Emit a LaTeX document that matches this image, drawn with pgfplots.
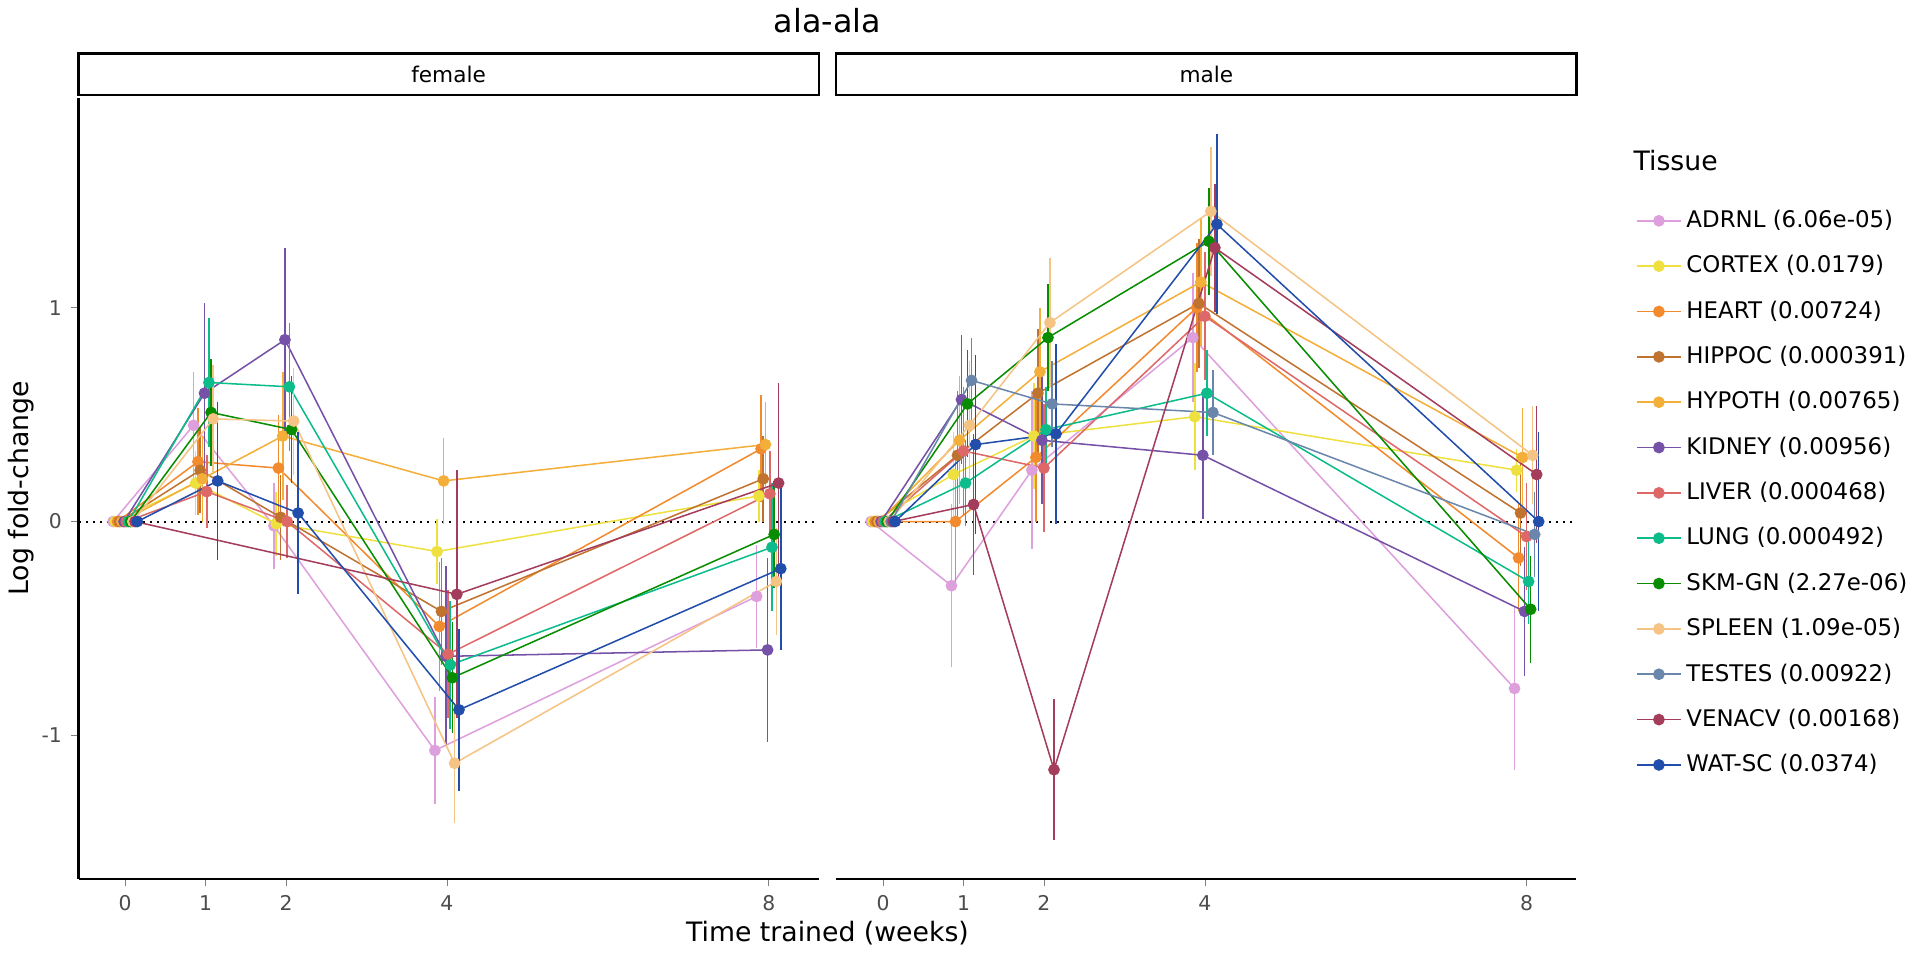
\documentclass[border=0pt]{standalone}
\usepackage{pgfplots}
\pgfplotsset{compat=1.18}
\usetikzlibrary{calc}
\usepackage{fontspec}
\setmainfont{DejaVu Sans}
\definecolor{cADRNL}{HTML}{DDA0DD}
\definecolor{cCORTEX}{HTML}{EEE13F}
\definecolor{cHEART}{HTML}{F28A2E}
\definecolor{cHIPPOC}{HTML}{C0732F}
\definecolor{cHYPOTH}{HTML}{F4AE3A}
\definecolor{cKIDNEY}{HTML}{7551A7}
\definecolor{cLIVER}{HTML}{DE6868}
\definecolor{cLUNG}{HTML}{0CBC8B}
\definecolor{cSKM}{HTML}{088C00}
\definecolor{cSPLEEN}{HTML}{F5C383}
\definecolor{cTESTES}{HTML}{6A87AB}
\definecolor{cVENACV}{HTML}{A33D5B}
\definecolor{cWAT}{HTML}{214DAB}
% #1 colour, #2 dodge offset, #3 data (t v e), #4 extra options
\newcommand{\tis}[4]{\addplot[color=#1, line width=0.6pt, mark=*, mark size=2pt, mark options={solid}, #4,
  error bars/.cd, y dir=both, y explicit, error mark=none, error bar style={line width=0.6pt,color=#1}]
  table[row sep=\\, x expr=\thisrow{t}+#2, y=v, y error=e] {#3};}
\pgfplotsset{panel/.style={width=291pt, height=307pt, scale only axis, enlargelimits=false,
  xmin=-0.58, xmax=8.62, ymin=-1.67, ymax=1.98, xtick={0,1,2,4,8},
  clip=false, tick label style={font=\fontsize{8}{9}\selectfont, color=black!70},
  /pgf/number format/assume math mode=true, tick align=outside, major tick length=3pt,
  axis line style={line width=0.8pt}}}
\begin{document}
\begin{tikzpicture}
\begin{axis}[panel, name=fem, axis x line*=bottom, axis y line*=left, ytick={-1,0,1},
  ylabel={Log fold-change}, ylabel style={font=\fontsize{10.5}{12}\selectfont, yshift=-4pt}]
\draw[dotted, line width=0.8pt] (axis cs:-0.58,0) -- (axis cs:8.62,0);
\tis{cADRNL}{-0.15}{t v e\\0 0 0\\1 0.45 0.25\\2 -0.02 0.2\\4 -1.07 0.25\\8 -0.35 0.24\\}{forget plot}
\tis{cCORTEX}{-0.123}{t v e\\0 0 0\\1 0.18 0.15\\2 -0.01 0.15\\4 -0.14 0.15\\8 0.12 0.12\\}{forget plot}
\tis{cHEART}{-0.095}{t v e\\0 0 0\\1 0.28 0.25\\2 0.25 0.25\\4 -0.49 0.3\\8 0.34 0.25\\}{forget plot}
\tis{cHIPPOC}{-0.068}{t v e\\0 0 0\\1 0.24 0.2\\2 0.02 0.2\\4 -0.42 0.25\\8 0.2 0.2\\}{forget plot}
\tis{cHYPOTH}{-0.041}{t v e\\0 0 0\\1 0.2 0.2\\2 0.40 0.3\\4 0.19 0.2\\8 0.36 0.2\\}{forget plot}
\tis{cKIDNEY}{-0.014}{t v e\\0 0 0\\1 0.6 0.42\\2 0.85 0.43\\4 -0.63 0.42\\8 -0.6 0.43\\}{forget plot}
\tis{cLIVER}{0.014}{t v e\\0 0 0\\1 0.14 0.17\\2 0.0 0.17\\4 -0.62 0.3\\8 0.13 0.2\\}{forget plot}
\tis{cLUNG}{0.041}{t v e\\0 0 0\\1 0.65 0.3\\2 0.63 0.3\\4 -0.67 0.3\\8 -0.12 0.3\\}{forget plot}
\tis{cSKM}{0.068}{t v e\\0 0 0\\1 0.51 0.25\\2 0.43 0.25\\4 -0.73 0.26\\8 -0.06 0.25\\}{forget plot}
\tis{cSPLEEN}{0.095}{t v e\\0 0 0\\1 0.48 0.25\\2 0.47 0.25\\4 -1.13 0.28\\8 -0.28 0.25\\}{forget plot}
\tis{cVENACV}{0.123}{t v e\\0 0 0\\4 -0.34 0.58\\8 0.18 0.47\\}{forget plot}
\tis{cWAT}{0.15}{t v e\\0 0 0\\1 0.19 0.37\\2 0.04 0.38\\4 -0.88 0.38\\8 -0.22 0.38\\}{forget plot}
\draw[line width=0.8pt] (rel axis cs:0,1.004) rectangle node{\fontsize{8.5}{10}\selectfont female} (rel axis cs:1,1.057);
\end{axis}
\begin{axis}[panel, name=mal, at={(fem.south east)}, anchor=south west, xshift=7pt,
  axis x line*=bottom, axis y line=none, ytick=\empty,
  legend style={draw=none, at={(1.07,0.87)}, anchor=north west, font=\fontsize{9}{10}\selectfont, row sep=5.5pt},
  legend cell align=left]
\draw[dotted, line width=0.8pt] (axis cs:-0.58,0) -- (axis cs:8.62,0);
\tis{cADRNL}{-0.15}{t v e\\0 0 0\\1 -0.3 0.38\\2 0.24 0.37\\4 0.86 0.3\\8 -0.78 0.38\\}{}
\addlegendentry{ADRNL (6.06e-05)}
\tis{cCORTEX}{-0.125}{t v e\\0 0 0\\1 0.22 0.2\\2 0.4 0.25\\4 0.49 0.25\\8 0.24 0.1\\}{}
\addlegendentry{CORTEX (0.0179)}
\tis{cHEART}{-0.1}{t v e\\0 0 0\\1 0.0 0.3\\2 0.3 0.3\\4 1.0 0.3\\8 -0.17 0.25\\}{}
\addlegendentry{HEART (0.00724)}
\tis{cHIPPOC}{-0.075}{t v e\\0 0 0\\1 0.31 0.3\\2 0.6 0.3\\4 1.02 0.3\\8 0.04 0.25\\}{}
\addlegendentry{HIPPOC (0.000391)}
\tis{cHYPOTH}{-0.05}{t v e\\0 0 0\\1 0.38 0.3\\2 0.7 0.3\\4 1.12 0.3\\8 0.3 0.23\\}{}
\addlegendentry{HYPOTH (0.00765)}
\tis{cKIDNEY}{-0.025}{t v e\\0 0 0\\1 0.57 0.3\\2 0.38 0.3\\4 0.31 0.3\\8 -0.42 0.3\\}{}
\addlegendentry{KIDNEY (0.00956)}
\tis{cLIVER}{0}{t v e\\0 0 0\\1 0.33 0.3\\2 0.25 0.3\\4 0.96 0.3\\8 -0.07 0.25\\}{}
\addlegendentry{LIVER (0.000468)}
\tis{cLUNG}{0.025}{t v e\\0 0 0\\1 0.18 0.2\\2 0.43 0.2\\4 0.6 0.2\\8 -0.28 0.2\\}{}
\addlegendentry{LUNG (0.000492)}
\tis{cSKM}{0.05}{t v e\\0 0 0\\1 0.55 0.25\\2 0.86 0.25\\4 1.31 0.25\\8 -0.41 0.25\\}{}
\addlegendentry{SKM-GN (2.27e-06)}
\tis{cSPLEEN}{0.075}{t v e\\0 0 0\\1 0.45 0.3\\2 0.93 0.3\\4 1.45 0.3\\8 0.31 0.23\\}{}
\addlegendentry{SPLEEN (1.09e-05)}
\tis{cTESTES}{0.1}{t v e\\0 0 0\\1 0.66 0.2\\2 0.55 0.2\\4 0.51 0.2\\8 -0.06 0.2\\}{}
\addlegendentry{TESTES (0.00922)}
\tis{cVENACV}{0.125}{t v e\\0 0 0\\1 0.08 0.33\\2 -1.16 0.33\\4 1.28 0.3\\8 0.22 0.32\\}{}
\addlegendentry{VENACV (0.00168)}
\tis{cWAT}{0.15}{t v e\\0 0 0\\1 0.36 0.42\\2 0.41 0.42\\4 1.39 0.42\\8 0.0 0.42\\}{}
\addlegendentry{WAT-SC (0.0374)}
\draw[line width=0.8pt] (rel axis cs:0,1.004) rectangle node{\fontsize{8.5}{10}\selectfont male} (rel axis cs:1,1.057);
\node[anchor=west, font=\fontsize{10.5}{12}\selectfont] at (rel axis cs:1.065,0.92) {Tissue};
\end{axis}
\node[font=\fontsize{10.5}{12}\selectfont, anchor=north] at ([yshift=-13pt]$(fem.south east)!0.5!(mal.south west)$) {Time trained (weeks)};
\node[font=\fontsize{12.5}{14}\selectfont, anchor=south] at ([yshift=22pt]$(fem.north east)!0.5!(mal.north west)$) {ala-ala};
\end{tikzpicture}
\end{document}
